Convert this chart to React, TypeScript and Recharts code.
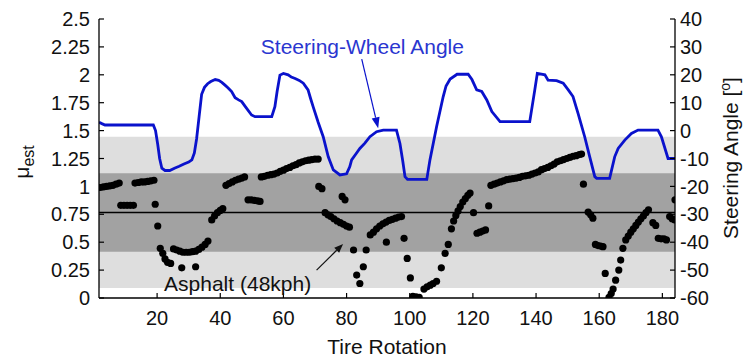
import React from 'react';
import {
  ComposedChart,
  Line,
  Scatter,
  XAxis,
  YAxis,
  ReferenceArea,
  ReferenceLine,
  ReferenceDot,
} from 'recharts';

// ---- axes ----
const xTicks = [20, 40, 60, 80, 100, 120, 140, 160, 180];
const xDomain = [1.6, 184];
const muTicks = [0, 0.25, 0.5, 0.75, 1, 1.25, 1.5, 1.75, 2, 2.25, 2.5];
const angleTicks = [-60, -50, -40, -30, -20, -10, 0, 10, 20, 30, 40];

// ---- bands ----
const outerBand = [0.09, 1.445];
const innerBand = [0.415, 1.117];
const muMean = 0.767;

// ---- steering-wheel angle (deg) ----
const steerRotation = [
  1.6, 2.5, 3.5, 18.8, 19.5, 20.2, 20.8, 21.5, 22.5, 24, 25.5, 27, 28.5, 30, 31, 31.8, 32.5, 33.3, 34.1, 35,
  36, 37, 38.4, 39.5, 40.5, 41.5, 42.5, 43.6, 44.7, 45.8, 46.8, 48, 49.9, 51, 56.3, 57.3, 58, 58.9, 60, 61.5,
  62.5, 63.7, 65, 66.3, 67.8, 68.6, 69.4, 71, 72.6, 74.2, 75.8, 77.9, 80, 81, 81.6, 83, 84.2, 85.8, 87.4, 89.5,
  91.6, 95.8, 96.9, 97.8, 98.5, 99.3, 105.4, 106.4, 108.5, 110.6, 111.5, 112.8, 115, 118.5, 119.7, 121.2, 122.8, 124.4, 126, 128.6,
  138, 139.6, 140.4, 142.8, 143.8, 146.5, 148.6, 150.2, 151.7, 153.3, 155.4, 157, 158.6, 159.2, 163.3, 164.9, 166, 168.1, 170.2, 172.3,
  178.6, 179.7, 181.8, 184,
];
const steerAngle = [
  3.0, 2.5, 2.0, 2.0, 0, -5, -10, -13.5, -14.3, -14.3, -13.5, -12.8, -12, -11.3, -10.5, -8, -3, 5, 13, 15.5,
  16.8, 17.6, 18.3, 18, 17.3, 16.3, 15.3, 14, 11.8, 11, 10.4, 8.5, 5.6, 5.0, 5.0, 8.6, 14, 19.9, 20.5, 20,
  19.2, 18.7, 18, 17, 14.6, 11.5, 8.6, 3, -2.2, -9.4, -14.1, -15.9, -15.5, -13, -10.5, -8.3, -6.4, -4.5, -2.2, -0.4,
  0.2, 0.2, -4.6, -11, -16.5, -17.5, -17.5, -10.5, 1.4, 12.2, 16, 18.5, 20.2, 20.2, 18.3, 14.6, 14, 11, 6.8, 3.2,
  3.2, 14.6, 20.5, 20, 18.1, 17.9, 17, 14.6, 12.2, 6.2, -2.2, -9.4, -16.5, -17.1, -17.1, -9.4, -6.4, -3.4, -1, 0.2,
  0.2, -2.2, -10, -10,
];

// ---- estimated friction coefficient ----
const muRotation = [
  2, 3, 4, 5, 6, 7, 8,
  8.5, 9.5, 10.5, 11.5, 12.5,
  13, 14, 15, 16, 17, 18, 19,
  19.4, 20.2, 21, 21.8, 22.5, 23.3, 24.3,
  27.8, 32.2,
  25.2, 26.2, 27.2, 28.2, 29.2, 30.2, 31.2, 32.2, 33.2, 34.2, 35.2, 36.1,
  37.3, 38.2, 39.1, 40, 40.8,
  41.8, 42.8, 43.8, 44.8, 45.8, 46.8, 47.7,
  48.8, 49.8, 50.8, 51.8, 52.6,
  53, 54, 55, 56, 57, 58, 59, 60, 61, 62, 63, 64, 65, 66, 67, 68, 69, 70, 71,
  71.2, 72.2,
  73.2, 74.1, 75, 76, 77, 78, 79, 80, 80.9,
  78.6, 79.5,
  82.2, 83.2, 84.2, 85.3, 86.2,
  87.5, 88.5, 89.5, 90.5, 91.5, 92.5, 93.5, 94.5, 95.5, 96.5, 97.4,
  92.6, 98.2, 99.2, 100.2, 101, 102, 103,
  104.5, 105.5, 106.5, 107.4, 108.5, 110, 111.2, 112.2, 113.2, 113.9, 114.6, 115.3, 116, 116.8, 117.6, 118.4, 119.1,
  120.2, 125,
  121.3, 122.2, 123.1, 124,
  125.7, 126.7, 127.7, 128.7, 129.7, 130.7, 131.7, 132.7, 133.7, 134.7, 135.7, 136.7, 137.7, 138.7, 139.7,
  140.7, 141.7, 142.7, 143.7, 144.7, 145.7, 146.7, 147.7, 148.7, 149.7, 150.7, 151.7, 152.7, 153.7, 154.4,
  155, 156.5, 157.3, 158,
  158.8, 159.6, 160.4, 161.2,
  161.9, 163.1, 163.8, 164.4, 165.2, 166.2, 166.8, 167.5, 168.4, 169.2, 170, 170.8, 171.6, 172.4, 173.2, 174, 174.8, 175.6,
  177, 177.9, 178.7, 179.6, 180.5, 181.3, 182.3, 183.1, 183.9, 184,
];
const muEst = [
  0.99, 0.995, 1.0, 1.005, 1.01, 1.02, 1.03,
  0.83, 0.83, 0.83, 0.83, 0.83,
  1.03, 1.035, 1.04, 1.04, 1.045, 1.05, 1.055,
  0.84, 0.645, 0.445, 0.4, 0.35, 0.32, 0.31,
  0.27, 0.28,
  0.44, 0.43, 0.42, 0.41, 0.41, 0.41, 0.415, 0.42, 0.435, 0.455, 0.48, 0.51,
  0.7, 0.735, 0.765, 0.785, 0.8,
  1.01, 1.025, 1.04, 1.055, 1.065, 1.075, 1.085,
  0.88, 0.88, 0.875, 0.87, 0.865,
  1.085, 1.09, 1.1, 1.105, 1.11, 1.12, 1.135, 1.145, 1.16, 1.17, 1.185, 1.195, 1.21, 1.22, 1.23, 1.235, 1.24, 1.245, 1.245,
  1.0, 0.98,
  0.765, 0.745, 0.73, 0.71, 0.69, 0.675, 0.66, 0.645, 0.635,
  0.91, 0.88,
  0.43, 0.205, 0.13, 0.28, 0.43,
  0.565, 0.59, 0.62, 0.645, 0.665, 0.68, 0.695, 0.705, 0.715, 0.725, 0.73,
  0.5, 0.535, 0.355, 0.18, 0.015, 0.01, 0.005,
  0.08, 0.1, 0.115, 0.13, 0.15, 0.27, 0.4, 0.48, 0.62, 0.69, 0.74, 0.78, 0.82, 0.86, 0.89, 0.92, 0.94,
  0.765, 0.825,
  0.58, 0.59, 0.6, 0.61,
  1.01, 1.02, 1.03, 1.04, 1.05, 1.06, 1.065, 1.07, 1.075, 1.08, 1.09, 1.095, 1.1, 1.11, 1.12,
  1.13, 1.15, 1.16, 1.17, 1.185, 1.2, 1.22, 1.23, 1.24, 1.25, 1.26, 1.27, 1.275, 1.285, 1.29,
  1.02, 0.77, 0.745, 0.715,
  0.48, 0.47, 0.465, 0.46,
  0.22, 0.005, 0.04, 0.08, 0.16, 0.25, 0.34, 0.445, 0.52, 0.555, 0.59, 0.62, 0.65, 0.68, 0.71, 0.735, 0.765, 0.79,
  0.675, 0.65, 0.535, 0.53, 0.53, 0.52, 0.73, 0.71, 0.7, 0.88,
];

// ---- annotations (data coordinates) ----
const steerLabel = { text: 'Steering-Wheel Angle', x: 85, mu: 2.25 };
const steerArrow = [{ x: 84.8, mu: 2.14 }, { x: 90.0, mu: 1.52 }];
const asphaltLabel = { text: 'Asphalt (48kph)', x: 45.5, mu: 0.13 };
const asphaltArrow = [{ x: 70.5, mu: 0.25 }, { x: 78.9, mu: 0.484 }];

const steerData = steerRotation.map((x, i) => ({ x, angle: steerAngle[i] }));
const muData = muRotation.map((x, i) => ({ x, mu: muEst[i] }));

const FONT = '"Liberation Sans", Arial, Helvetica, sans-serif';
const BLUE = '#0a12cc';

const arrowShape = (color: string, headLen: number, headW: number) => (props: any) => {
  const { x1, y1, x2, y2 } = props;
  const dx = x2 - x1;
  const dy = y2 - y1;
  const len = Math.hypot(dx, dy) || 1;
  const ux = dx / len;
  const uy = dy / len;
  const bx = x2 - ux * headLen;
  const by = y2 - uy * headLen;
  const px = (-uy * headW) / 2;
  const py = (ux * headW) / 2;
  return (
    <g>
      <line x1={x1} y1={y1} x2={bx} y2={by} stroke={color} strokeWidth={1.2} />
      <polygon points={`${x2},${y2} ${bx + px},${by + py} ${bx - px},${by - py}`} fill={color} />
    </g>
  );
};

const textShape = (text: string, color: string) => (props: any) => (
  <text
    x={props.cx}
    y={props.cy}
    textAnchor="middle"
    dominantBaseline="central"
    fontFamily={FONT}
    fontSize={21}
    fill={color}
  >
    {text}
  </text>
);

const dotShape = (props: any) => <circle cx={props.cx} cy={props.cy} r={3.6} fill="#000" />;

const tickStyle = { fill: '#111', fontSize: 20, fontFamily: FONT };

export default function App() {
  return (
    <div style={{ position: 'absolute', left: 0, top: 0, width: 744, height: 358, background: '#fff' }}>
      <ComposedChart width={744} height={358} margin={{ top: 19, right: 0, bottom: 0, left: 0 }}>
        <XAxis
          dataKey="x"
          type="number"
          domain={xDomain}
          ticks={xTicks}
          interval={0}
          allowDataOverflow
          height={60}
          tickSize={-5}
          tickMargin={18}
          tick={tickStyle}
          axisLine={{ stroke: '#000', strokeWidth: 1.3 }}
          tickLine={{ stroke: '#000', strokeWidth: 1.2 }}
          label={{ value: 'Tire Rotation', position: 'insideBottom', offset: 4, fill: '#111', fontSize: 21, fontFamily: FONT }}
        />
        <XAxis
          xAxisId="top"
          orientation="top"
          dataKey="x"
          type="number"
          domain={xDomain}
          ticks={xTicks}
          interval={0}
          allowDataOverflow
          height={0}
          tickSize={-5}
          tickFormatter={() => ''}
          axisLine={{ stroke: '#000', strokeWidth: 1.3 }}
          tickLine={{ stroke: '#000', strokeWidth: 1.2 }}
        />
        <YAxis
          yAxisId="left"
          type="number"
          domain={[0, 2.5]}
          ticks={muTicks}
          interval={0}
          allowDataOverflow
          width={99}
          tickSize={-5}
          tickMargin={14}
          tick={tickStyle}
          axisLine={{ stroke: '#000', strokeWidth: 1.3 }}
          tickLine={{ stroke: '#000', strokeWidth: 1.2 }}
          label={{
            content: () => (
              <text transform="translate(29,162) rotate(-90)" textAnchor="middle" fontFamily={FONT} fontSize={21} fill="#111">
                μ
                <tspan fontSize={16} dy={5}>
                  est
                </tspan>
              </text>
            ),
          }}
        />
        <YAxis
          yAxisId="right"
          orientation="right"
          type="number"
          domain={[-60, 40]}
          ticks={angleTicks}
          interval={0}
          allowDataOverflow
          width={69}
          tickSize={-5}
          tickMargin={10}
          tick={tickStyle}
          axisLine={{ stroke: '#000', strokeWidth: 1.3 }}
          tickLine={{ stroke: '#000', strokeWidth: 1.2 }}
          label={{
            content: () => (
              <text transform="translate(738,158) rotate(-90)" textAnchor="middle" fontFamily={FONT} fontSize={21} fill="#111">
                Steering Angle [
                <tspan fontSize={14} dy={-8}>
                  o
                </tspan>
                <tspan dy={8}>]</tspan>
              </text>
            ),
          }}
        />
        <ReferenceArea yAxisId="left" y1={outerBand[0]} y2={outerBand[1]} fill="#dedede" fillOpacity={1} stroke="none" />
        <ReferenceArea yAxisId="left" y1={innerBand[0]} y2={innerBand[1]} fill="#a2a2a2" fillOpacity={1} stroke="none" />
        <ReferenceLine yAxisId="left" y={muMean} stroke="#000" strokeWidth={1.5} />
        <Line
          yAxisId="right"
          data={steerData}
          dataKey="angle"
          type="linear"
          stroke={BLUE}
          strokeWidth={2.8}
          dot={false}
          isAnimationActive={false}
        />
        <Scatter yAxisId="left" data={muData} dataKey="mu" shape={dotShape} isAnimationActive={false} />
        <ReferenceLine
          yAxisId="left"
          segment={[{ x: steerArrow[0].x, y: steerArrow[0].mu }, { x: steerArrow[1].x, y: steerArrow[1].mu }]}
          ifOverflow="visible"
          shape={arrowShape(BLUE, 11, 8)}
        />
        <ReferenceLine
          yAxisId="left"
          segment={[{ x: asphaltArrow[0].x, y: asphaltArrow[0].mu }, { x: asphaltArrow[1].x, y: asphaltArrow[1].mu }]}
          ifOverflow="visible"
          shape={arrowShape('#111', 9, 7)}
        />
        <ReferenceDot
          yAxisId="left"
          x={steerLabel.x}
          y={steerLabel.mu}
          r={0}
          ifOverflow="visible"
          shape={textShape(steerLabel.text, '#2a36d0')}
        />
        <ReferenceDot
          yAxisId="left"
          x={asphaltLabel.x}
          y={asphaltLabel.mu}
          r={0}
          ifOverflow="visible"
          shape={textShape(asphaltLabel.text, '#111')}
        />
      </ComposedChart>
    </div>
  );
}
